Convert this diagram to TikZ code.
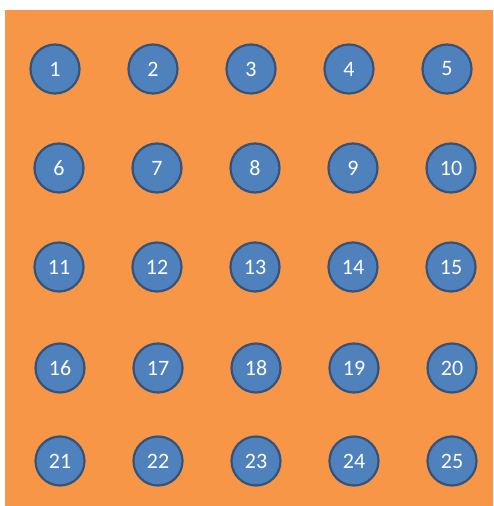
\documentclass[tikz,border=0pt]{standalone}
\usepackage{fontspec}
\setmainfont{Carlito}
\usepackage{xcolor}
\usetikzlibrary{positioning}

\definecolor{bgorange}{HTML}{F79646}
\definecolor{dotblue}{HTML}{4F81BD}
\definecolor{dotrim}{HTML}{34527A}

\begin{document}
\begin{tikzpicture}[
    x=1pt, y=1pt,
    every node/.style={font=\fontsize{22}{26}\selectfont},
    dot/.style={circle, draw=dotrim, line width=2.2pt, fill=dotblue, text=white, minimum size=49pt, inner sep=0pt},
]
    \useasboundingbox (0,0) rectangle (493,506);
    \fill[bgorange] (5,0) rectangle (493,496);
    % rows: row index / baseline y / first x
    \foreach \r/\yy/\xs in {0/437/55, 1/338/59, 2/239/59, 3/138/60, 4/45/60} {
        \foreach \c in {1,...,5} {
            \pgfmathtruncatemacro{\n}{5*\r+\c}
            \node[dot] (c\n) at ({\xs+98*(\c-1)}, \yy) {\n};
        }
    }
\end{tikzpicture}
\end{document}
